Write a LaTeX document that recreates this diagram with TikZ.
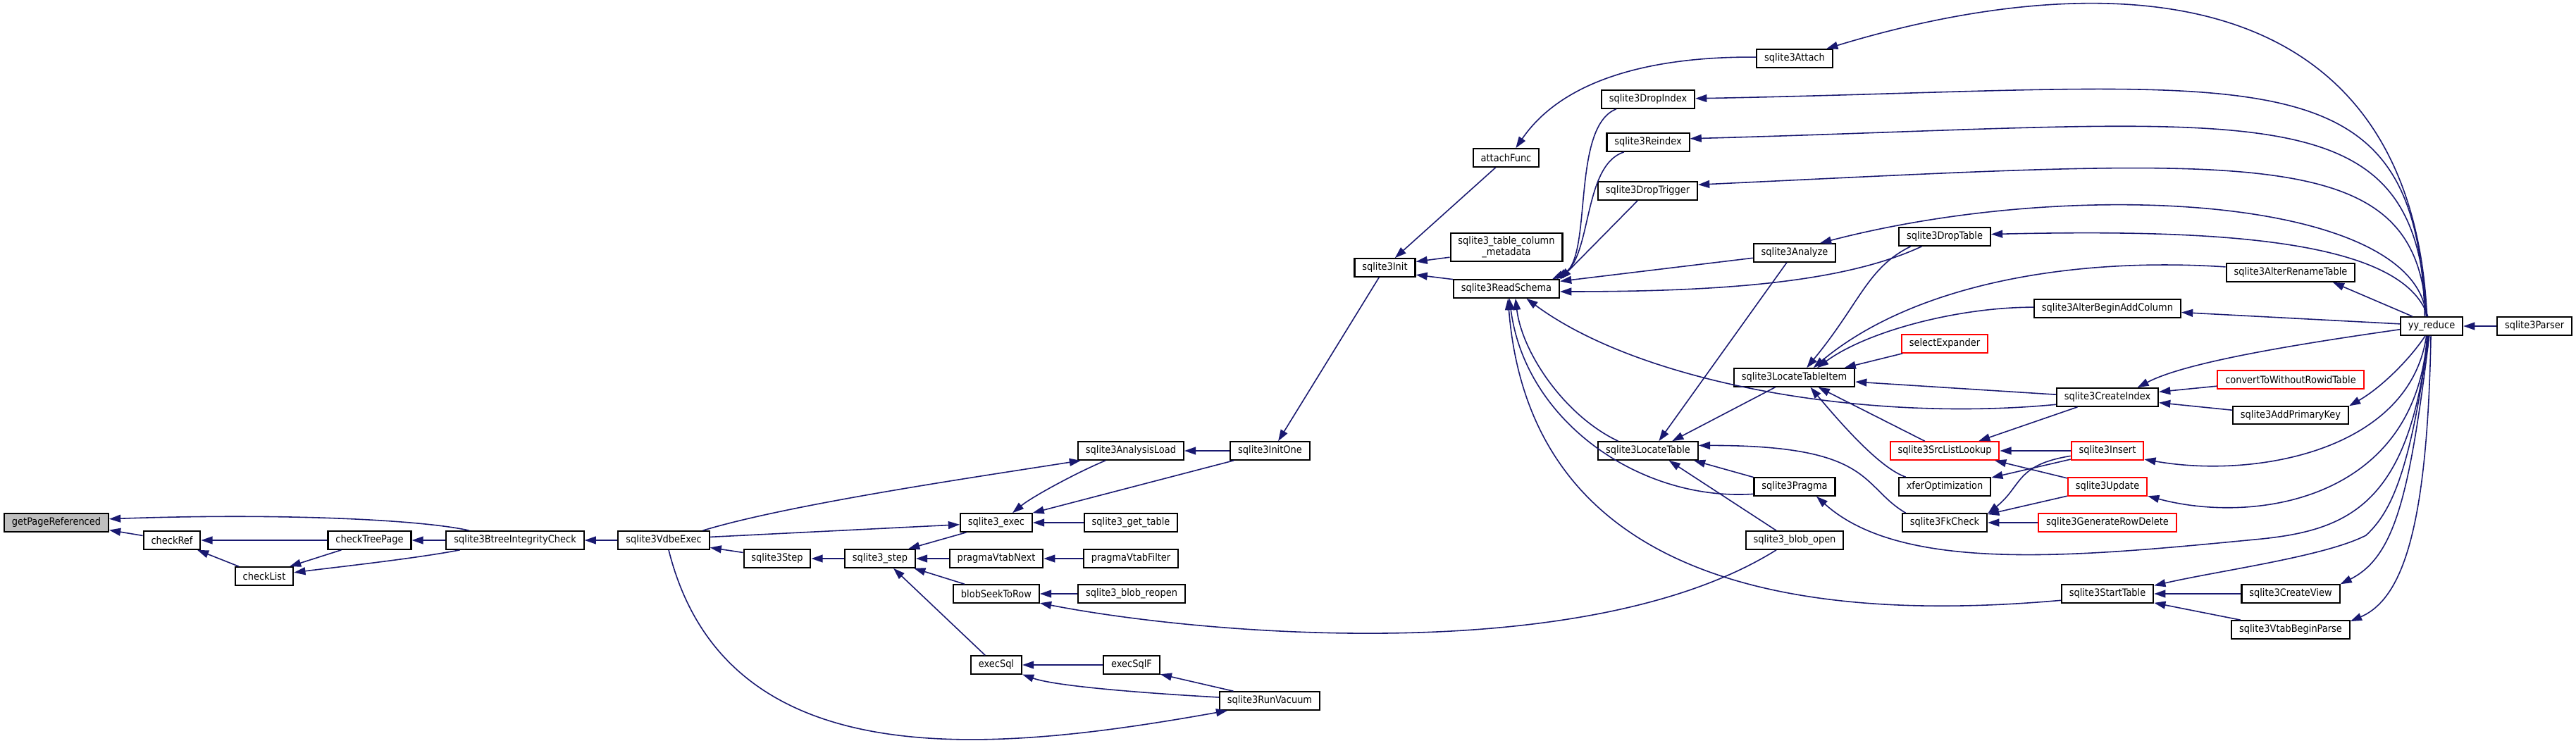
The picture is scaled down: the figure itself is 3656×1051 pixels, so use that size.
\documentclass[tikz,border=0pt]{standalone}
\usepackage{fontspec}
\setmainfont{DejaVu Sans Condensed}
\usetikzlibrary{arrows.meta}
\definecolor{edgeblue}{RGB}{25,25,112}
\definecolor{nodered}{RGB}{255,0,0}
\definecolor{nodegray}{RGB}{191,191,191}
\newcommand{\fnfont}{\fontsize{4.1}{4.5}\selectfont}

\begin{document}
\begin{tikzpicture}[x=0.01cm, y=-0.01cm,
    fn/.style={rectangle, draw=black, line width=0.6pt, fill=white,
               minimum height=0.255cm, inner xsep=3.1pt, inner ysep=0pt, font=\fnfont},
    fnred/.style={fn, draw=nodered},
    arrow/.style={-{Triangle[length=4.6pt, width=3.1pt]}, line width=0.45pt, draw=edgeblue}]

    \useasboundingbox[fill=white] (0,0) rectangle (3656,1051);

    \node[fn, fill=nodegray] (gpr) at (80,742) {getPageReferenced};
    \node[fn] (cref) at (244,767) {checkRef};
    \node[fn] (clist) at (375,818) {checkList};
    \node[fn] (ctp) at (524.5,767) {checkTreePage};
    \node[fn] (bic) at (731,767) {sqlite3BtreeIntegrityCheck};
    \node[fn] (vdbe) at (942,767) {sqlite3VdbeExec};
    \node[fn] (vstep) at (1103,793) {sqlite3Step};
    \node[fn] (step) at (1249,793) {sqlite3\_step};
    \node[fn] (exec) at (1414,742) {sqlite3\_exec};
    \node[fn] (gettab) at (1605,742) {sqlite3\_get\_table};
    \node[fn] (aload) at (1605,640) {sqlite3AnalysisLoad};
    \node[fn] (initone) at (1802.5,640) {sqlite3InitOne};
    \node[fn] (vnext) at (1414,793) {pragmaVtabNext};
    \node[fn] (vfilter) at (1605,793) {pragmaVtabFilter};
    \node[fn] (seek) at (1414,843) {blobSeekToRow};
    \node[fn] (reopen) at (1606,843) {sqlite3\_blob\_reopen};
    \node[fn] (esql) at (1414,944) {execSql};
    \node[fn] (esqlf) at (1606,944) {execSqlF};
    \node[fn] (vacuum) at (1802,995) {sqlite3RunVacuum};
    \node[fn] (init) at (1965.5,380) {sqlite3Init};
    \node[fn] (afunc) at (2137.5,224) {attachFunc};
    \node[fn, align=center, minimum height=0.4cm] (tcm) at (2138,351) {sqlite3\_table\_column\\\_metadata};
    \node[fn] (rschema) at (2138,410) {sqlite3ReadSchema};
    \node[fn] (dropidx) at (2339,141) {sqlite3DropIndex};
    \node[fn] (reidx) at (2339,202) {sqlite3Reindex};
    \node[fn] (droptrig) at (2338.5,271) {sqlite3DropTrigger};
    \node[fn] (attach) at (2547,83) {sqlite3Attach};
    \node[fn] (analyze) at (2547,359) {sqlite3Analyze};
    \node[fn] (droptab) at (2760,336) {sqlite3DropTable};
    \node[fn] (addcol) at (2991,438) {sqlite3AlterBeginAddColumn};
    \node[fnred] (selexp) at (2760,488) {selectExpander};
    \node[fn] (ltitem) at (2546.5,536) {sqlite3LocateTableItem};
    \node[fn] (ltab) at (2339,640) {sqlite3LocateTable};
    \node[fn] (pragma) at (2547,691) {sqlite3Pragma};
    \node[fn] (bopen) at (2547,767) {sqlite3\_blob\_open};
    \node[fnred] (srcl) at (2760,640) {sqlite3SrcListLookup};
    \node[fn] (xfer) at (2760,691) {xferOptimization};
    \node[fn] (fk) at (2760,742) {sqlite3FkCheck};
    \node[fn] (cidx) at (2991,564) {sqlite3CreateIndex};
    \node[fnred] (insert) at (2991,640) {sqlite3Insert};
    \node[fnred] (update) at (2991,691) {sqlite3Update};
    \node[fnred] (rowdel) at (2991,742) {sqlite3GenerateRowDelete};
    \node[fn] (stab) at (2991,843) {sqlite3StartTable};
    \node[fn] (rename) at (3251,387) {sqlite3AlterRenameTable};
    \node[fn] (yyr) at (3451,463) {yy\_reduce};
    \node[fn] (parser) at (3597,463) {sqlite3Parser};
    \node[fnred] (cvt) at (3251,539) {convertToWithoutRowidTable};
    \node[fn] (apk) at (3251,589.5) {sqlite3AddPrimaryKey};
    \node[fn] (cview) at (3251,843) {sqlite3CreateView};
    \node[fn] (vtabp) at (3251,894) {sqlite3VtabBeginParse};

    % callers, left part
    \draw[arrow] (cref.171) -- (gpr.352);
    \draw[arrow] (bic.168) .. controls (600,738) and (400,728) .. (gpr.4);
    \draw[arrow] (ctp) -- (cref);
    \draw[arrow] (clist.159) -- (cref.339);
    \draw[arrow] (ctp.199) -- (clist.21);
    \draw[arrow] (bic.190) .. controls (590,793) and (470,806) .. (clist.7);
    \draw[arrow] (bic) -- (ctp);
    \draw[arrow] (vdbe) -- (bic);
    \draw[arrow] (vstep.170) -- (vdbe.351);
    \draw[arrow] (vdbe.14) .. controls (1120,716) and (1380,678) .. (aload.191);
    \draw[arrow] (vdbe.4) -- (exec.183);
    \draw[arrow] (vdbe.297) .. controls (1030,1105) and (1400,1070) .. (vacuum.193);
    \draw[arrow] (step) -- (vstep);
    \draw[arrow] (exec.198) -- (step.19);
    \draw[arrow] (vnext) -- (step);
    \draw[arrow] (seek.163) -- (step.344);
    \draw[arrow] (esql.139) -- (step.324);
    \draw[arrow] (aload.201) .. controls (1530,670) and (1465,705) .. (exec.31);
    \draw[arrow] (initone.195) -- (exec.15);
    \draw[arrow] (gettab) -- (exec);
    \draw[arrow] (initone) -- (aload);
    \draw[arrow] (init.239) -- (initone.50);
    \draw[arrow] (vfilter) -- (vnext);
    \draw[arrow] (reopen) -- (seek);
    \draw[arrow] (bopen.208) .. controls (2250,950) and (1700,900) .. (seek.348);
    \draw[arrow] (esqlf) -- (esql);
    \draw[arrow] (vacuum.176) .. controls (1640,985) and (1500,975) .. (esql.340);
    \draw[arrow] (vacuum.165) -- (esqlf.342);

    % schema and table lookup
    \draw[arrow] (afunc.223) -- (init.44);
    \draw[arrow] (tcm.190) -- (init.11);
    \draw[arrow] (rschema.170) -- (init.347);
    \draw[arrow] (attach.178) .. controls (2350,80) and (2220,110) .. (afunc.45);
    \draw[arrow] (dropidx.197) .. controls (2230,180) and (2260,360) .. (rschema.11);
    \draw[arrow] (reidx.202) .. controls (2245,235) and (2260,370) .. (rschema.12);
    \draw[arrow] (droptrig.224) -- (rschema.10);
    \draw[arrow] (analyze.187) -- (rschema.8);
    \draw[arrow] (droptab.203) .. controls (2620,400) and (2450,414) .. (rschema.357);
    \draw[arrow] (ltab.162) .. controls (2220,590) and (2160,500) .. (rschema.313);
    \draw[arrow] (pragma.190) .. controls (2330,712) and (2165,600) .. (rschema.287);
    \draw[arrow] (stab.188) .. controls (2500,890) and (2170,800) .. (rschema.279);
    \draw[arrow] (cidx.188) .. controls (2650,600) and (2330,545) .. (rschema.334);
    \draw[arrow] (analyze.231) -- (ltab.42);
    \draw[arrow] (droptab.196) .. controls (2650,380) and (2640,430) .. (ltitem.38);
    \draw[arrow] (rename.175) .. controls (2950,365) and (2720,400) .. (ltitem.27);
    \draw[arrow] (addcol.179) .. controls (2780,436) and (2650,470) .. (ltitem.23);
    \draw[arrow] (selexp.193) -- (ltitem.11);
    \draw[arrow] (cidx.177) -- (ltitem.356);
    \draw[arrow] (ltitem.207) -- (ltab.22);
    \draw[arrow] (srcl.154) -- (ltitem.338);
    \draw[arrow] (xfer.166) .. controls (2670,665) and (2620,610) .. (ltitem.329);
    \draw[arrow] (fk.166) .. controls (2640,690) and (2660,632) .. (ltab.6);
    \draw[arrow] (pragma.167) -- (ltab.348);
    \draw[arrow] (bopen.152) -- (ltab.335);
    \draw[arrow] (insert) -- (srcl);
    \draw[arrow] (update.168) -- (srcl.349);
    \draw[arrow] (cidx.198) -- (srcl.16);
    \draw[arrow] (insert.193) -- (xfer.11);
    \draw[arrow] (insert.188) .. controls (2860,660) and (2870,690) .. (fk.12);
    \draw[arrow] (update.193) -- (fk.11);
    \draw[arrow] (rowdel) -- (fk);
    \draw[arrow] (cvt.185) -- (cidx.6);
    \draw[arrow] (apk.175) -- (cidx.354);
    \draw[arrow] (cview) -- (stab);
    \draw[arrow] (vtabp.169) -- (stab.349);

    % parser side
    \draw[arrow] (parser) -- (yyr);
    \draw[arrow] (yyr.115) .. controls (3420,-60) and (2950,-40) .. (attach.17);
    \draw[arrow] (yyr.125) .. controls (3430,60) and (3200,125) .. (dropidx.1);
    \draw[arrow] (yyr.118) .. controls (3430,120) and (3200,175) .. (reidx.5);
    \draw[arrow] (yyr.118) .. controls (3430,200) and (3200,225) .. (droptrig.7);
    \draw[arrow] (yyr.118) .. controls (3430,280) and (2950,250) .. (analyze.21);
    \draw[arrow] (yyr.111) .. controls (3410,340) and (3150,325) .. (droptab.3);
    \draw[arrow] (yyr.153) -- (rename.347);
    \draw[arrow] (yyr.176) -- (addcol.357);
    \draw[arrow] (yyr.186) .. controls (3250,490) and (3100,515) .. (cidx.18);
    \draw[arrow] (yyr.237) .. controls (3420,510) and (3380,550) .. (apk.9);
    \draw[arrow] (yyr.242) .. controls (3420,640) and (3200,680) .. (insert.347);
    \draw[arrow] (yyr.245) .. controls (3430,710) and (3200,745) .. (update.347);
    \draw[arrow] (yyr.249) .. controls (3420,720) and (3330,754) .. (3200,766)
                 .. controls (2950,790) and (2700,815) .. (pragma.336);
    \draw[arrow] (yyr.253) .. controls (3420,680) and (3390,730) .. (3358,760)
                 .. controls (3300,790) and (3150,810) .. (stab.10);
    \draw[arrow] (yyr.257) .. controls (3420,700) and (3400,790) .. (cview.11);
    \draw[arrow] (yyr.266) .. controls (3445,750) and (3410,850) .. (vtabp.8);
\end{tikzpicture}
\end{document}
